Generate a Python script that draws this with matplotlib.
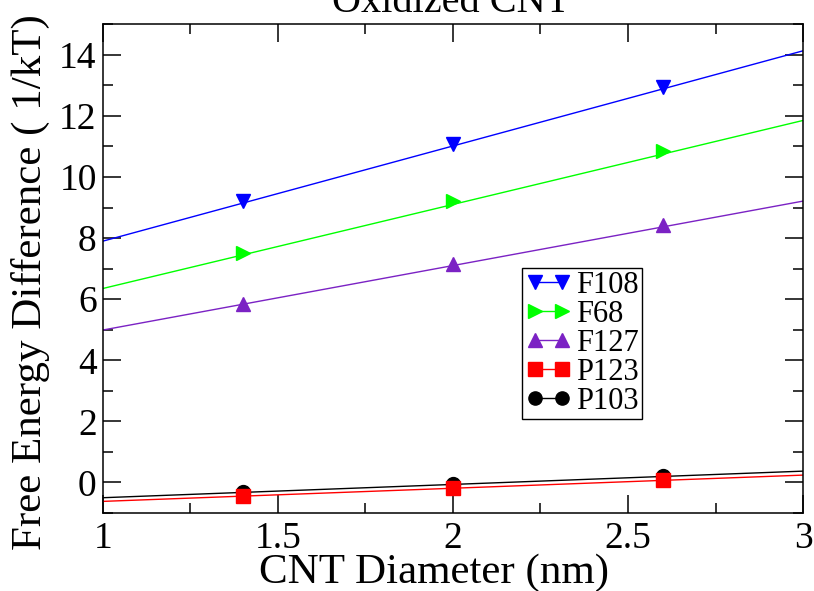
import numpy as np
import matplotlib
matplotlib.use("Agg")
import matplotlib.pyplot as plt
from matplotlib.ticker import MultipleLocator

plt.rcParams['font.family'] = ['Liberation Serif', 'DejaVu Serif']

# data
diam = [1.4, 2.0, 2.6]
names = ['F108', 'F68', 'F127', 'P123', 'P103']
f108 = [9.20, 11.08, 12.95]
f68 = [7.52, 9.20, 10.85]
f127 = [5.85, 7.14, 8.42]
p123 = [-0.46, -0.19, 0.07]
p103 = [-0.31, -0.06, 0.21]

# straight fit lines, read at the two ends of the x axis
line_x = [1.0, 3.0]
line_lo = [7.90, 6.35, 4.99, -0.62, -0.50]
line_hi = [14.13, 11.85, 9.21, 0.24, 0.37]

series = [f108, f68, f127, p123, p103]
colors = ['#0000ff', '#00ff00', '#7b22c4', '#ff0000', '#000000']
markers = ['v', '>', '^', 's', 'o']
zorders = [3, 3, 3, 4, 3]

fig = plt.figure(figsize=(8.14, 5.91), dpi=100)
ax = fig.add_axes([0.1265, 0.132, 0.86, 0.827])

for i in range(len(series)):
    c = colors[i]
    ax.plot(line_x, [line_lo[i], line_hi[i]], color=c, lw=1.0, zorder=2)
    ax.plot(diam, series[i], ls='none', marker=markers[i], color=c, ms=10, zorder=zorders[i])
    # legend handle: line with markers on both ends
    ax.plot([], [], color=c, lw=1.0, marker=markers[i], ms=9.5, label=names[i])

ax.set_xlim(1, 3)
ax.set_ylim(-1, 15)
ax.xaxis.set_major_locator(MultipleLocator(0.5))
ax.xaxis.set_minor_locator(MultipleLocator(0.25))
ax.yaxis.set_major_locator(MultipleLocator(2))
ax.yaxis.set_minor_locator(MultipleLocator(1))
ax.set_xticks([1, 1.5, 2, 2.5, 3])
ax.set_xticklabels(['1', '1.5', '2', '2.5', '3'])
ax.tick_params(which='both', direction='in', top=True, right=True, labelsize=27, width=1.1)
ax.tick_params(which='major', length=13)
ax.tick_params(which='minor', length=7)
ax.tick_params(axis='x', pad=6)
ax.tick_params(axis='y', pad=4.5)
for s in ax.spines.values():
    s.set_linewidth(1.1)

ax.set_xlabel('CNT Diameter (nm)', fontsize=31, va='baseline')
ax.xaxis.set_label_coords(0.473, -0.143)
ax.set_ylabel('Free Energy Difference ( 1/kT)', fontsize=31, va='center')
ax.yaxis.set_label_coords(-0.104, 0.472)
fig.text(0.554, 0.98, 'Oxidized CNT', fontsize=29, ha='center', va='baseline')

leg = ax.legend(loc='upper left', bbox_to_anchor=(0.599, 0.501), fontsize=22,
                frameon=True, fancybox=False, edgecolor='black', framealpha=1,
                numpoints=2, handlelength=1.5, handletextpad=0.15,
                borderpad=0.1, labelspacing=0.0, borderaxespad=0)
leg.get_frame().set_linewidth(1.0)

fig.savefig('out.png', dpi=100)
